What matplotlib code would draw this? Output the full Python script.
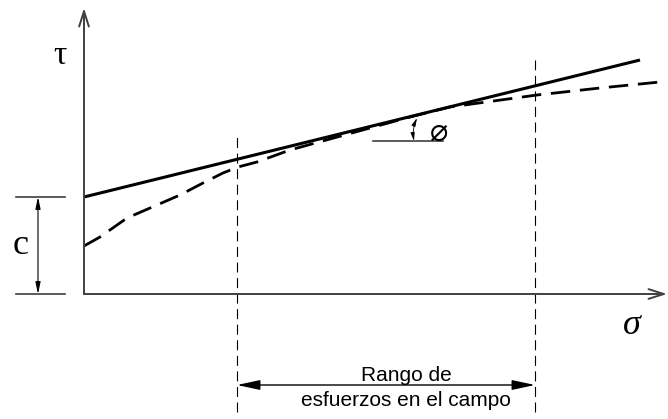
import numpy as np
import matplotlib.pyplot as plt

# Mohr-Coulomb envelope vs. actual failure curve (units are drawing units)
c = 97                                  # cohesion intercept
sigma_env = [0, 556]                    # straight envelope
tau_env = [97, 234]
sigma_curve = [0, 16, 43, 73, 96, 119, 139, 154, 173, 206, 286, 326, 366, 453, 516, 576]
tau_curve = [48, 57, 76, 89, 99, 111, 121, 127, 132, 144, 166, 177, 187, 199, 206, 212]
field_range = [153, 451]                # range of field stresses
range_label = "Rango de\nesfuerzos en el campo"

axis_col = '#404040'

fig = plt.figure(figsize=(6.68, 4.19), dpi=100)
ax = fig.add_axes([0, 0, 1, 1])
ax.set_xlim(-84, 584)
ax.set_ylim(-125, 294)
ax.axis('off')

# axes with open arrowheads
ax.annotate('', xy=(0, 286), xytext=(0, 0),
            arrowprops=dict(arrowstyle='->,head_length=1.1,head_width=0.35',
                            color=axis_col, lw=1.4, shrinkA=0, shrinkB=0))
ax.annotate('', xy=(583, 0), xytext=(0, 0),
            arrowprops=dict(arrowstyle='->,head_length=1.1,head_width=0.35',
                            color=axis_col, lw=1.4, shrinkA=0, shrinkB=0))

# envelope and curve
ax.plot(sigma_env, tau_env, color='black', lw=2.2, solid_capstyle='butt')
ax.plot(sigma_curve, tau_curve, color='black', lw=2.0, dashes=(7, 3.5))

# field stress limits
ax.plot([field_range[0]] * 2, [-118, 159], color='black', lw=0.8, dashes=(9, 5))
ax.plot([field_range[1]] * 2, [-118, 234], color='black', lw=0.8, dashes=(9, 5))
ax.annotate('', xy=(field_range[0], -91), xytext=(field_range[1], -91),
            arrowprops=dict(arrowstyle='<|-|>,head_length=1.4,head_width=0.3',
                            color='black', lw=1.0, shrinkA=0, shrinkB=0))
ax.text((field_range[0] + field_range[1]) / 2 + 20, -94, range_label,
        ha='center', va='center', fontsize=15, family='Liberation Sans',
        linespacing=1.35)

# cohesion dimension
ax.plot([-68, -19], [c, c], color=axis_col, lw=1.2)
ax.plot([-68, -19], [0, 0], color=axis_col, lw=1.2)
ax.annotate('', xy=(-46, c), xytext=(-46, 0),
            arrowprops=dict(arrowstyle='<|-|>,head_length=0.7,head_width=0.15',
                            color='black', lw=0.8, shrinkA=0, shrinkB=0))
ax.text(-63, 49, 'c', ha='center', va='center', fontsize=26, family='Liberation Serif')

# friction angle marker
ax.plot([289, 359], [153, 153], color=axis_col, lw=1.2)
ax.annotate('', xy=(330, 153), xytext=(333, 176),
            arrowprops=dict(arrowstyle='<|-|>,head_length=0.5,head_width=0.12',
                            color='black', lw=0.6, shrinkA=0, shrinkB=0,
                            connectionstyle='arc3,rad=0.15'))
ax.text(355, 162, '\u2300', ha='center', va='center', fontsize=22,
        family='DejaVu Sans')

# axis labels
ax.text(-24, 238, '\u03c4', ha='center', va='center', fontsize=24, family='Liberation Serif')
ax.text(548, -31, '\u03c3', ha='center', va='center', fontsize=26,
        family='Liberation Serif', style='italic')

fig.savefig('out.png', dpi=100)
